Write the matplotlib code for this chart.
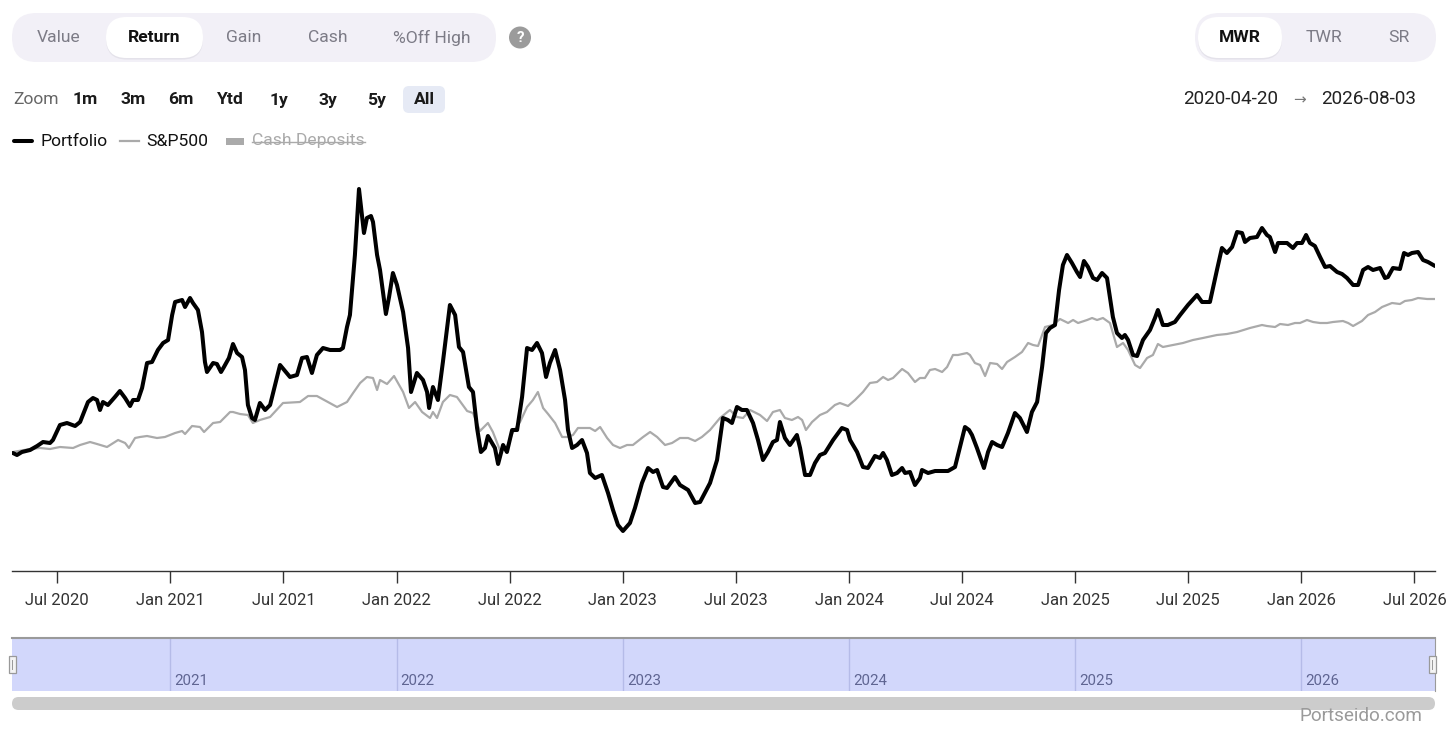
import matplotlib
matplotlib.use("Agg")
import matplotlib.pyplot as plt
from matplotlib.patches import FancyBboxPatch, Rectangle, Circle

plt.rcParams['font.family'] = ['Roboto', 'DejaVu Sans']

# ---------------- data (decimal year, return units) ----------------
portfolio = [
    (2020.304, 0), (2020.322, -2), (2020.344, 1), (2020.380, 3), (2020.411, 7), (2020.437, 11),
    (2020.468, 10), (2020.481, 13), (2020.512, 28), (2020.543, 30), (2020.579, 27), (2020.601, 31),
    (2020.636, 51), (2020.658, 55), (2020.676, 53), (2020.689, 43), (2020.702, 51), (2020.724, 48),
    (2020.755, 56), (2020.777, 62), (2020.800, 55), (2020.822, 47), (2020.835, 53), (2020.857, 53),
    (2020.875, 65), (2020.897, 90), (2020.919, 91), (2020.945, 103), (2020.968, 110), (2020.990, 113),
    (2021.008, 138), (2021.021, 151), (2021.052, 153), (2021.065, 146), (2021.087, 155), (2021.100, 150),
    (2021.122, 143), (2021.140, 121), (2021.153, 91), (2021.162, 81), (2021.189, 90), (2021.206, 89),
    (2021.224, 81), (2021.237, 86), (2021.259, 95), (2021.277, 109), (2021.295, 100), (2021.317, 96),
    (2021.330, 83), (2021.343, 48), (2021.361, 35), (2021.374, 33), (2021.396, 50), (2021.419, 43),
    (2021.441, 48), (2021.485, 88), (2021.529, 76), (2021.560, 78), (2021.582, 95), (2021.604, 96),
    (2021.626, 80), (2021.648, 98), (2021.675, 105), (2021.706, 103), (2021.750, 103), (2021.763, 105),
    (2021.781, 126), (2021.794, 138), (2021.816, 198), (2021.834, 264), (2021.847, 238), (2021.856, 220),
    (2021.869, 235), (2021.887, 237), (2021.896, 231), (2021.914, 198), (2021.927, 183), (2021.940, 161),
    (2021.953, 139), (2021.967, 156), (2021.984, 180), (2022.002, 168), (2022.029, 141), (2022.051, 105),
    (2022.064, 61), (2022.090, 80), (2022.117, 73), (2022.135, 61), (2022.144, 45), (2022.161, 66),
    (2022.183, 53), (2022.205, 91), (2022.236, 148), (2022.259, 138), (2022.276, 106), (2022.294, 101),
    (2022.320, 66), (2022.338, 61), (2022.356, 25), (2022.373, 1), (2022.391, 5), (2022.404, 17),
    (2022.435, 5), (2022.449, -11), (2022.471, 8), (2022.488, 1), (2022.511, 23), (2022.533, 23),
    (2022.555, 56), (2022.577, 105), (2022.599, 103), (2022.621, 110), (2022.643, 100), (2022.661, 76),
    (2022.678, 90), (2022.701, 103), (2022.723, 83), (2022.745, 53), (2022.758, 23), (2022.776, 5),
    (2022.798, 8), (2022.820, 13), (2022.842, 0), (2022.855, -20), (2022.878, -25), (2022.908, -22),
    (2022.935, -40), (2022.957, -57), (2022.979, -72), (2023.001, -78), (2023.032, -70), (2023.054, -55),
    (2023.085, -30), (2023.112, -15), (2023.134, -19), (2023.152, -17), (2023.178, -34), (2023.196, -35),
    (2023.231, -24), (2023.253, -32), (2023.289, -37), (2023.320, -50), (2023.342, -49), (2023.386, -30),
    (2023.417, -7), (2023.443, 35), (2023.465, 33), (2023.483, 30), (2023.505, 46), (2023.527, 43),
    (2023.549, 43), (2023.576, 30), (2023.598, 13), (2023.620, -7), (2023.642, 1), (2023.664, 11),
    (2023.682, 13), (2023.695, 31), (2023.717, 15), (2023.739, 8), (2023.770, 18), (2023.784, 5),
    (2023.806, -22), (2023.828, -22), (2023.850, -10), (2023.872, -2), (2023.894, 0), (2023.930, 13),
    (2023.969, 25), (2023.992, 23), (2024.005, 13), (2024.036, 1), (2024.062, -14), (2024.084, -15),
    (2024.115, -3), (2024.137, -5), (2024.151, 0), (2024.168, -7), (2024.190, -22), (2024.213, -20),
    (2024.235, -15), (2024.248, -20), (2024.270, -19), (2024.292, -32), (2024.314, -25), (2024.323, -17),
    (2024.350, -20), (2024.381, -18), (2024.438, -18), (2024.469, -14), (2024.491, 6), (2024.513, 26),
    (2024.531, 23), (2024.544, 18), (2024.566, 5), (2024.580, -4), (2024.597, -15), (2024.615, 1),
    (2024.633, 11), (2024.655, 8), (2024.677, 6), (2024.703, 20), (2024.734, 40), (2024.756, 35),
    (2024.787, 21), (2024.809, 41), (2024.832, 51), (2024.854, 86), (2024.871, 120), (2024.889, 125),
    (2024.911, 128), (2024.929, 163), (2024.946, 188), (2024.964, 198), (2024.986, 190), (2025.008, 181),
    (2025.022, 176), (2025.039, 192), (2025.057, 186), (2025.079, 175), (2025.097, 173), (2025.119, 180),
    (2025.141, 175), (2025.167, 136), (2025.185, 120), (2025.207, 115), (2025.220, 118), (2025.234, 113),
    (2025.256, 98), (2025.274, 97), (2025.300, 113), (2025.331, 123), (2025.353, 135), (2025.366, 143),
    (2025.388, 128), (2025.410, 128), (2025.441, 131), (2025.464, 138), (2025.499, 148), (2025.539, 158),
    (2025.561, 151), (2025.596, 151), (2025.627, 183), (2025.649, 205), (2025.671, 200), (2025.694, 206),
    (2025.716, 221), (2025.738, 220), (2025.751, 211), (2025.773, 215), (2025.804, 216), (2025.826, 225),
    (2025.848, 218), (2025.861, 216), (2025.884, 201), (2025.897, 210), (2025.937, 210), (2025.963, 205),
    (2025.981, 210), (2026.003, 210), (2026.021, 218), (2026.038, 210), (2026.060, 207), (2026.083, 196),
    (2026.105, 186), (2026.127, 187), (2026.158, 181), (2026.180, 179), (2026.202, 175), (2026.229, 168),
    (2026.251, 168), (2026.273, 183), (2026.295, 186), (2026.317, 183), (2026.348, 185), (2026.370, 175),
    (2026.383, 176), (2026.405, 185), (2026.436, 184), (2026.454, 200), (2026.472, 198), (2026.489, 200),
    (2026.516, 201), (2026.538, 193), (2026.560, 191), (2026.591, 187),
]

sp500 = [
    (2020.304, 1), (2020.380, 4), (2020.424, 5), (2020.468, 4), (2020.512, 6), (2020.570, 5),
    (2020.601, 8), (2020.645, 11), (2020.676, 9), (2020.720, 6), (2020.769, 13), (2020.800, 10),
    (2020.817, 5), (2020.844, 15), (2020.866, 16), (2020.897, 17), (2020.941, 15), (2020.976, 16),
    (2021.021, 20), (2021.052, 22), (2021.065, 19), (2021.096, 27), (2021.131, 26), (2021.149, 21),
    (2021.189, 30), (2021.220, 31), (2021.264, 41), (2021.277, 41), (2021.308, 39), (2021.343, 38),
    (2021.365, 30), (2021.396, 33), (2021.441, 36), (2021.498, 50), (2021.573, 51), (2021.609, 57),
    (2021.648, 57), (2021.737, 46), (2021.781, 51), (2021.808, 60), (2021.839, 70), (2021.869, 76),
    (2021.896, 75), (2021.914, 63), (2021.927, 73), (2021.958, 69), (2021.989, 77), (2022.029, 61),
    (2022.055, 45), (2022.082, 51), (2022.113, 41), (2022.148, 35), (2022.161, 41), (2022.179, 35),
    (2022.205, 51), (2022.236, 58), (2022.267, 56), (2022.312, 42), (2022.338, 40), (2022.369, 22),
    (2022.404, 30), (2022.426, 21), (2022.457, 3), (2022.488, 6), (2022.515, 21), (2022.546, 31),
    (2022.577, 46), (2022.603, 53), (2022.625, 61), (2022.648, 45), (2022.670, 39), (2022.701, 30),
    (2022.732, 16), (2022.754, 16), (2022.780, 18), (2022.802, 25), (2022.855, 25), (2022.878, 22),
    (2022.900, 26), (2022.931, 15), (2022.957, 8), (2022.988, 5), (2023.019, 8), (2023.045, 8),
    (2023.090, 16), (2023.121, 21), (2023.152, 16), (2023.187, 8), (2023.218, 10), (2023.253, 15),
    (2023.289, 15), (2023.320, 12), (2023.350, 16), (2023.386, 23), (2023.430, 35), (2023.474, 43),
    (2023.505, 36), (2023.532, 35), (2023.563, 43), (2023.607, 38), (2023.638, 32), (2023.664, 41),
    (2023.695, 43), (2023.717, 35), (2023.748, 33), (2023.775, 36), (2023.793, 33), (2023.810, 23),
    (2023.837, 31), (2023.872, 38), (2023.903, 41), (2023.938, 48), (2023.960, 50), (2023.996, 47),
    (2024.027, 53), (2024.062, 61), (2024.093, 70), (2024.124, 71), (2024.151, 76), (2024.173, 73),
    (2024.195, 75), (2024.235, 84), (2024.261, 80), (2024.292, 71), (2024.314, 75), (2024.336, 75),
    (2024.358, 83), (2024.381, 84), (2024.412, 81), (2024.434, 86), (2024.460, 98), (2024.482, 98),
    (2024.522, 100), (2024.535, 98), (2024.557, 90), (2024.580, 88), (2024.602, 77), (2024.624, 90),
    (2024.655, 89), (2024.677, 84), (2024.699, 91), (2024.734, 96), (2024.765, 101), (2024.792, 110),
    (2024.814, 108), (2024.836, 107), (2024.867, 126), (2024.902, 128), (2024.933, 134), (2024.969, 130),
    (2024.991, 133), (2025.013, 130), (2025.053, 133), (2025.075, 135), (2025.097, 133), (2025.123, 135),
    (2025.154, 130), (2025.185, 106), (2025.212, 110), (2025.234, 103), (2025.265, 88), (2025.287, 85),
    (2025.318, 95), (2025.344, 98), (2025.366, 109), (2025.388, 106), (2025.433, 108), (2025.477, 110),
    (2025.521, 113), (2025.565, 115), (2025.627, 118), (2025.671, 119), (2025.716, 121), (2025.773, 125),
    (2025.826, 128), (2025.848, 127), (2025.884, 126), (2025.906, 129), (2025.941, 128), (2025.972, 130),
    (2025.994, 130), (2026.025, 133), (2026.052, 131), (2026.083, 130), (2026.114, 130), (2026.140, 131),
    (2026.184, 132), (2026.207, 130), (2026.229, 127), (2026.268, 132), (2026.295, 138), (2026.326, 141),
    (2026.357, 146), (2026.401, 150), (2026.436, 149), (2026.458, 152), (2026.489, 153), (2026.516, 155),
    (2026.556, 154), (2026.591, 154),
]

x_ticks = [2020.5, 2021.0, 2021.5, 2022.0, 2022.5, 2023.0, 2023.5, 2024.0, 2024.5, 2025.0, 2025.5, 2026.0, 2026.5]
x_tick_labels = ["Jul 2020", "Jan 2021", "Jul 2021", "Jan 2022", "Jul 2022", "Jan 2023", "Jul 2023",
                 "Jan 2024", "Jul 2024", "Jan 2025", "Jul 2025", "Jan 2026", "Jul 2026"]
nav_years = [2021, 2022, 2023, 2024, 2025, 2026]
x_start, x_end = 2020.30, 2026.591
y_lo, y_hi = -118, 278

metric_tabs = ["Value", "Return", "Gain", "Cash", "%Off High"]
metric_active = "Return"
return_tabs = ["MWR", "TWR", "SR"]
return_active = "MWR"
zoom_buttons = ["1m", "3m", "6m", "Ytd", "1y", "3y", "5y", "All"]
zoom_active = "All"
date_from, date_to = "2020-04-20", "2026-08-03"

# ---------------- figure ----------------
W, H = 1456, 740
fig = plt.figure(figsize=(W / 100, H / 100), dpi=100)
fig.patch.set_facecolor("white")

def fx(px):
    return px / W

def fy(py):
    return 1 - py / H

# main chart
ax = fig.add_axes([fx(12), fy(571), fx(1435) - fx(12), fy(175) - fy(571)])
sx = [p[0] for p in sp500]
sv = [p[1] for p in sp500]
px_ = [p[0] for p in portfolio]
pv = [p[1] for p in portfolio]
ax.plot(sx, sv, color="#aaaaaa", lw=1.6, solid_joinstyle="round", zorder=2)
ax.plot(px_, pv, color="#000000", lw=2.9, solid_joinstyle="round", solid_capstyle="round", zorder=3)
ax.set_xlim(x_start, x_end)
ax.set_ylim(y_lo, y_hi)
for s in ["top", "right", "left"]:
    ax.spines[s].set_visible(False)
ax.spines["bottom"].set_color("#333333")
ax.spines["bottom"].set_linewidth(1.0)
ax.set_yticks([])
ax.set_xticks(x_ticks)
ax.set_xticklabels(x_tick_labels, fontsize=12, color="#333333")
ax.tick_params(axis="x", direction="out", length=8.6, width=1, color="#333333", pad=7)
ax.patch.set_alpha(0)

# navigator
nav = fig.add_axes([fx(12), fy(691), fx(1435) - fx(12), fy(638) - fy(691)])
nav.set_facecolor("#d2d7fb")
nav.set_xlim(x_start, x_end)
nav.set_ylim(0, 1)
nav.set_xticks([])
nav.set_yticks([])
for s in ["bottom", "left"]:
    nav.spines[s].set_visible(False)
nav.spines["top"].set_color("#9a9a9a")
nav.spines["top"].set_linewidth(1.5)
nav.spines["right"].set_color("#9a9a9a")
nav.spines["right"].set_linewidth(0.8)
for yr in nav_years:
    nav.axvline(yr, color="#b5bbe8", lw=1)
    nav.text(yr + 0.018, 0.18, str(yr), fontsize=10.8, color="#5f6592", ha="left", va="center")

# UI overlay in pixel coordinates
ui = fig.add_axes([0, 0, 1, 1], zorder=10)
ui.set_xlim(0, W)
ui.set_ylim(H, 0)
ui.axis("off")
ui.patch.set_visible(False)

def pill(x, y, w, h, color, r=None, z=1, ec="none"):
    r = h / 2 if r is None else r
    p = FancyBboxPatch((x + r, y + r), w - 2 * r, h - 2 * r,
                       boxstyle=f"round,pad={r},rounding_size={r}",
                       fc=color, ec=ec, lw=0.8, zorder=z)
    ui.add_patch(p)

# metric tabs
pill(12, 13, 484, 49, "#f2f0f7")
pill(106, 18.5, 97, 41, "#e4e2ea", z=2)
pill(106, 17, 97, 41, "#ffffff", z=3)
metric_x = [59, 154, 244, 328, 432]
for lbl, x in zip(metric_tabs, metric_x):
    act = lbl == metric_active
    ui.text(x, 37.5, lbl, fontsize=12.6, ha="center", va="center",
            color="#111111" if act else "#7c7b86", weight="bold" if act else "normal", zorder=4)
ui.add_patch(Circle((520, 37.5), 11, fc="#9b9b9b", ec="none", zorder=3))
ui.text(520, 38.5, "?", fontsize=11, ha="center", va="center", color="white", weight="bold", zorder=4)

# return-type tabs
pill(1195, 13, 241, 49, "#f2f0f7")
pill(1198, 18.5, 84, 41, "#e4e2ea", z=2)
pill(1198, 17, 84, 41, "#ffffff", z=3)
ret_x = [1240, 1324, 1399]
for lbl, x in zip(return_tabs, ret_x):
    act = lbl == return_active
    ui.text(x, 37.5, lbl, fontsize=12.6, ha="center", va="center",
            color="#111111" if act else "#7c7b86", weight="bold" if act else "normal", zorder=4)

# zoom row
ui.text(13, 100, "Zoom", fontsize=12.6, ha="left", va="center", color="#666666")
zoom_x = [85, 133, 181, 230, 279, 328, 376, 424]
for lbl, x in zip(zoom_buttons, zoom_x):
    if lbl == zoom_active:
        pill(x - 21, 86, 42, 27, "#e6eaf5", r=6, z=2)
    ui.text(x, 100, lbl, fontsize=12.6, ha="center", va="center", color="#1a1a1a", weight="bold", zorder=4)

# date range
ui.text(1230.5, 99.5, date_from, fontsize=13.6, ha="center", va="center", color="#222222")
ui.text(1300, 99.5, "\u2192", fontsize=11, ha="center", va="center", color="#777777",
        family=["DejaVu Sans"])
ui.text(1368.5, 99.5, date_to, fontsize=13.6, ha="center", va="center", color="#222222")

# legend
ui.plot([14, 32], [141, 141], color="black", lw=2.9, solid_capstyle="round")
ui.text(40, 141, "Portfolio", fontsize=12.6, ha="left", va="center", color="#111111")
ui.plot([120, 139], [141, 141], color="#aaaaaa", lw=1.6)
ui.text(146, 141, "S&P500", fontsize=12.6, ha="left", va="center", color="#111111")
ui.add_patch(Rectangle((226, 138), 18, 7, fc="#aaaaaa", ec="none"))
ui.text(252, 141, "Cash Deposits", fontsize=12.6, ha="left", va="center", color="#aaaaaa")
ui.plot([252, 365], [142, 142], color="#aaaaaa", lw=1.0)

# navigator handles
for hx in (12, 1432):
    ui.add_patch(Rectangle((hx - 3, 656), 7, 17, fc="#f4f4f4", ec="#999999", lw=0.9, zorder=5))
    ui.plot([hx - 0.5, hx - 0.5], [660, 669], color="#999999", lw=0.7, zorder=6)

# scrollbar
pill(12, 697, 1423, 13, "#cccccc")

# watermark
ui.text(1422, 716, "Portseido.com", fontsize=13.6, ha="right", va="center", color="#9a9a9a")

fig.savefig("out.png", dpi=100, facecolor="white")
